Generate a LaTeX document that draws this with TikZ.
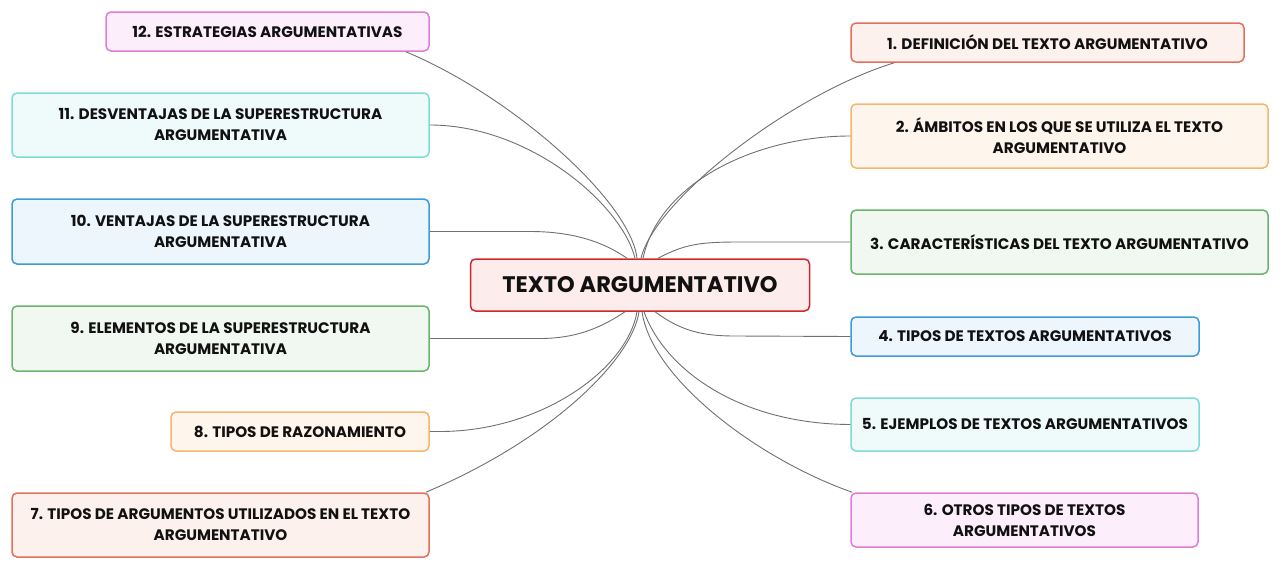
\documentclass[tikz,border=0pt]{standalone}
\usepackage{fontspec}
\setmainfont{Poppins}
\usetikzlibrary{calc}
\definecolor{cred}{HTML}{D0282A}\definecolor{fred}{HTML}{FDECEC}
\definecolor{csal}{HTML}{E2705F}\definecolor{fsal}{HTML}{FDF1ED}
\definecolor{cora}{HTML}{F3B76E}\definecolor{fora}{HTML}{FEF6EC}
\definecolor{cgre}{HTML}{6AB46D}\definecolor{fgre}{HTML}{F1F8F1}
\definecolor{cblu}{HTML}{3C9BD9}\definecolor{fblu}{HTML}{EEF6FD}
\definecolor{ctea}{HTML}{80DAD6}\definecolor{ftea}{HTML}{EFFBFA}
\definecolor{cpin}{HTML}{DF7ED2}\definecolor{fpin}{HTML}{FCEEFA}
\definecolor{ctxt}{HTML}{111111}
\definecolor{clin}{HTML}{707070}
\tikzset{
  box/.style={draw, line width=1.5pt, rounded corners=5pt, inner sep=0pt, align=center,
    font=\fontsize{15.2}{21}\selectfont\bfseries, text=ctxt},
  conn/.style={draw=clin, line width=0.9pt},
}
\begin{document}
\begin{tikzpicture}[x=1pt,y=-1pt]
\useasboundingbox (0,0) rectangle (1280,570);
% center
\node[box, draw=cred, fill=fred, minimum width=339, minimum height=52,
  font=\fontsize{22.5}{27}\selectfont\bfseries] (c) at (640,285) {TEXTO ARGUMENTATIVO};
% right
\node[box, draw=csal, fill=fsal, minimum width=393, minimum height=39] (b1) at (1047.5,42.5) {1. DEFINICIÓN DEL TEXTO ARGUMENTATIVO};
\node[box, draw=cora, fill=fora, minimum width=417, minimum height=64] (b2) at (1059.5,136) {2. ÁMBITOS EN LOS QUE SE UTILIZA EL TEXTO\\ARGUMENTATIVO};
\node[box, draw=cgre, fill=fgre, minimum width=417, minimum height=64] (b3) at (1059.5,242) {3. CARACTERÍSTICAS DEL TEXTO ARGUMENTATIVO};
\node[box, draw=cblu, fill=fblu, minimum width=348, minimum height=39] (b4) at (1025,336.5) {4. TIPOS DE TEXTOS ARGUMENTATIVOS};
\node[box, draw=ctea, fill=ftea, minimum width=348, minimum height=53] (b5) at (1025,424.5) {5. EJEMPLOS DE TEXTOS ARGUMENTATIVOS};
\node[box, draw=cpin, fill=fpin, minimum width=347, minimum height=54] (b6) at (1024.5,520) {6. OTROS TIPOS DE TEXTOS\\ARGUMENTATIVOS};
% left
\node[box, draw=cpin, fill=fpin, minimum width=323, minimum height=39] (b12) at (267.5,31.5) {12. ESTRATEGIAS ARGUMENTATIVAS};
\node[box, draw=ctea, fill=ftea, minimum width=417, minimum height=64] (b11) at (220.5,125) {11. DESVENTAJAS DE LA SUPERESTRUCTURA\\ARGUMENTATIVA};
\node[box, draw=cblu, fill=fblu, minimum width=417, minimum height=65] (b10) at (220.5,231.5) {10. VENTAJAS DE LA SUPERESTRUCTURA\\ARGUMENTATIVA};
\node[box, draw=cgre, fill=fgre, minimum width=417, minimum height=65] (b9) at (220.5,338.5) {9. ELEMENTOS DE LA SUPERESTRUCTURA\\ARGUMENTATIVA};
\node[box, draw=cora, fill=fora, minimum width=258, minimum height=39] (b8) at (300,431.5) {8. TIPOS DE RAZONAMIENTO};
\node[box, draw=csal, fill=fsal, minimum width=417, minimum height=64] (b7) at (220.5,525) {7. TIPOS DE ARGUMENTOS UTILIZADOS EN EL TEXTO\\ARGUMENTATIVO};
% connectors
\draw[conn] ($(c.north)+(1,0)$) .. controls (655,200) and (790,95) .. ($(b1.south west)+(44,0)$);
\draw[conn] ($(c.north)+(3,0)$) .. controls (660,180) and (760,136) .. (b2.west);
\draw[conn] ($(c.north)+(18,0)$) .. controls (685,244) and (700,242) .. (740,242) -- (b3.west);
\draw[conn] ($(c.south)+(15,0)$) .. controls (680,330) and (700,336) .. (735,336) -- (b4.west);
\draw[conn] ($(c.south)+(4,0)$) .. controls (665,370) and (740,424) .. (b5.west);
\draw[conn] ($(c.south)+(2,0)$) .. controls (652,380) and (760,460) .. ($(b6.north west)+(2,0)$);
\draw[conn] ($(c.north)+(-3,0)$) .. controls (630,200) and (510,95) .. ($(b12.south east)+(-24,0)$);
\draw[conn] ($(c.north)+(-5,0)$) .. controls (622,205) and (530,125) .. (b11.east);
\draw[conn] ($(c.north)+(-13,0)$) .. controls (605,243) and (575,231.5) .. (530,231.5) -- (b10.east);
\draw[conn] ($(c.south)+(-15,0)$) .. controls (605,325) and (580,338.5) .. (540,338.5) -- (b9.east);
\draw[conn] ($(c.south)+(-3,0)$) .. controls (627,370) and (540,431.5) .. (440,431.5) -- (b8.east);
\draw[conn] ($(c.south)+(-1,0)$) .. controls (632,360) and (550,440) .. ($(b7.north east)+(-4,0)$);
\end{tikzpicture}
\end{document}
